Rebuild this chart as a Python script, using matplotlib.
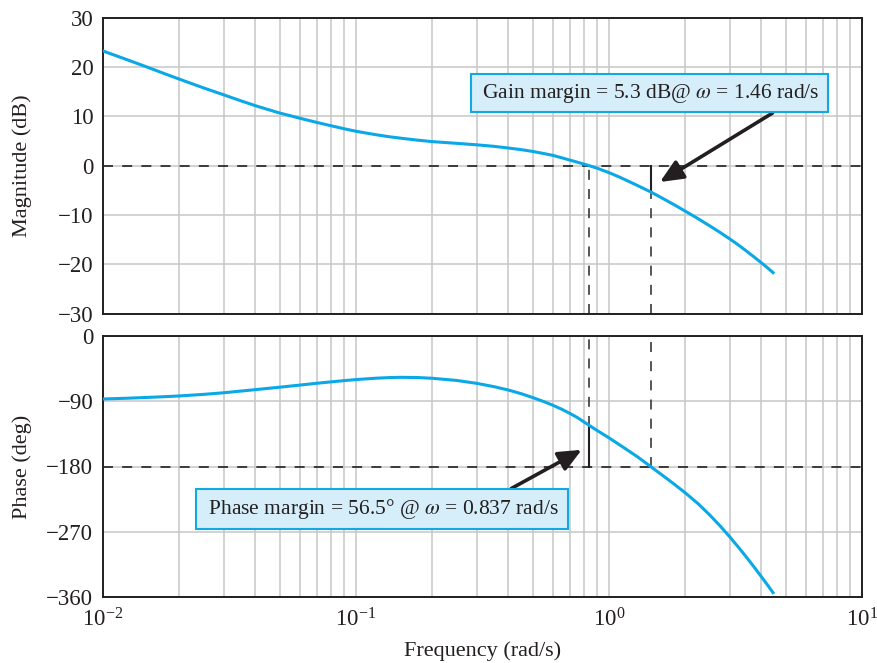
import matplotlib
matplotlib.use("Agg")
import matplotlib.pyplot as plt
from matplotlib.ticker import FixedLocator, LogLocator, NullFormatter

plt.rcParams["font.family"] = ["Liberation Serif", "DejaVu Serif"]
plt.rcParams["mathtext.fontset"] = "stix"

# Bode data
freq = [0.01, 0.0125, 0.015, 0.0175, 0.02, 0.025, 0.03, 0.035, 0.04, 0.045,
        0.05, 0.06, 0.07, 0.08, 0.09, 0.1, 0.12, 0.135, 0.15, 0.175, 0.2,
        0.25, 0.3, 0.35, 0.4, 0.45, 0.5, 0.55, 0.6, 0.65, 0.7, 0.75, 0.837,
        0.9, 1.0, 1.1, 1.2, 1.3, 1.46, 1.6, 1.8, 2.0, 2.25, 2.5, 2.75, 3.0,
        3.25, 3.5, 3.75, 4.0, 4.25, 4.45]
mag_db = [23.3, 21.5, 20.0, 18.7, 17.6, 15.8, 14.4, 13.2, 12.2, 11.4,
          10.7, 9.65, 8.8, 8.1, 7.5, 7.0, 6.3, 5.9, 5.6, 5.2, 4.9,
          4.55, 4.25, 3.95, 3.6, 3.27, 2.9, 2.5, 2.1, 1.62, 1.15, 0.72, 0.0,
          -0.52, -1.4, -2.3, -3.2, -4.05, -5.3, -6.4, -7.85, -9.2, -10.75,
          -12.2, -13.55, -14.85, -16.1, -17.35, -18.55, -19.7, -20.8, -21.7]
phase_deg = [-86.9, -85.8, -84.7, -83.7, -82.7, -80.5, -78.3, -76.0, -74.0,
             -72.2, -70.6, -67.7, -65.2, -63.2, -61.5, -60.1, -58.2, -57.4,
             -57.0, -57.3, -58.3, -61.3, -65.3, -69.8, -74.5, -79.6, -85.0,
             -90.2, -95.5, -101.0, -106.7, -112.5, -123.5, -130.6, -140.5,
             -150.0, -158.8, -167.0, -180.0, -190.3, -203.7, -216.2, -231.3,
             -246.8, -262.0, -277.0, -291.5, -305.4, -318.9, -331.9, -344.3,
             -354.0]

mag_ticks = [30, 20, 10, 0, -10, -20, -30]
phase_ticks = [0, -90, -180, -270, -360]

gain_margin = 5.3      # dB
phase_margin = 56.5    # deg
w_gc = 0.837           # gain crossover (rad/s)
w_pc = 1.46            # phase crossover (rad/s)

gain_text = "\u2009" + r"Gain margin = 5.3 dB@ $\omega$ = 1.46 rad/s" + "\u2009"
phase_text = "\u2009" + r"Phase margin = 56.5° @ $\omega$ = 0.837 rad/s" + "\u2009"

curve_color = "#0aa8e6"
box_style = dict(boxstyle="square,pad=0.36", fc="#d6eefa", ec="#12a8e0", lw=1.5)
arrow_style = dict(arrowstyle="-|>,head_length=0.9,head_width=0.4",
                   color="#231f20", lw=2.6, shrinkA=0, shrinkB=0)
dash = (0, (6, 5.5))


def preparar_eje(ax, ticks, lim):
    ax.set_xscale("log")
    ax.set_xlim(1e-2, 1e1)
    ax.set_ylim(*lim)
    ax.yaxis.set_major_locator(FixedLocator(ticks))
    ax.xaxis.set_major_locator(LogLocator(base=10, numticks=10))
    ax.xaxis.set_minor_locator(LogLocator(base=10, subs=range(2, 10), numticks=20))
    ax.xaxis.set_minor_formatter(NullFormatter())
    ax.grid(True, which="major", color="#c6c6c6", lw=1.1)
    ax.grid(True, which="minor", axis="x", color="#c6c6c6", lw=1.1)
    ax.set_axisbelow(True)
    ax.tick_params(which="both", length=0, labelsize=16.5, pad=7, colors="#231f20")
    ax.tick_params(axis="x", pad=8)
    for s in ax.spines.values():
        s.set_color("#231f20")
        s.set_linewidth(1.4)


fig = plt.figure(figsize=(8.77, 6.63), dpi=100)
ax1 = fig.add_axes([103 / 877, 1 - 313.5 / 663, 759 / 877, 295.5 / 663])
ax2 = fig.add_axes([103 / 877, 1 - 597 / 663, 759 / 877, 261 / 663])

preparar_eje(ax1, mag_ticks, (-30, 30))
preparar_eje(ax2, phase_ticks, (-360, 0))
ax1.tick_params(axis="x", labelbottom=False)

# magnitude
ax1.axhline(0, color="#231f20", lw=1.2, ls=dash)
ax1.plot([w_gc, w_gc], [-30, 0], color="#3a3a3a", lw=1.2, ls=dash)
ax1.plot([w_pc, w_pc], [-30, -gain_margin], color="#3a3a3a", lw=1.2, ls=dash)
ax1.plot([w_pc, w_pc], [-gain_margin, 0], color="#231f20", lw=1.5)
ax1.plot(freq, mag_db, color=curve_color, lw=2.2, zorder=5)

# phase
ax2.axhline(-180, color="#231f20", lw=1.2, ls=dash)
ax2.plot([w_gc, w_gc], [-180 + phase_margin, 0], color="#3a3a3a", lw=1.2, ls=dash)
ax2.plot([w_gc, w_gc], [-180, -180 + phase_margin], color="#231f20", lw=1.5)
ax2.plot([w_pc, w_pc], [-180, 0], color="#3a3a3a", lw=1.2, ls=dash)
ax2.plot(freq, phase_deg, color=curve_color, lw=2.2, zorder=5)

ax1.annotate(gain_text, xy=(1.59, -3.3), xycoords="data",
             xytext=(0.72, 0.746), textcoords="axes fraction",
             ha="center", va="center", fontsize=15.5, color="#231f20",
             bbox=box_style, arrowprops=dict(relpos=(0.9, 0), **arrow_style),
             zorder=6)
ax2.annotate(phase_text, xy=(0.78, -157), xycoords="data",
             xytext=(0.3676, 0.337), textcoords="axes fraction",
             ha="center", va="center", fontsize=15.5, color="#231f20",
             bbox=box_style, arrowprops=dict(relpos=(0.82, 1), **arrow_style),
             zorder=6)

ax1.set_ylabel("Magnitude (dB)", fontsize=16, color="#231f20")
ax2.set_ylabel("Phase (deg)", fontsize=16, color="#231f20")
ax2.set_xlabel("Frequency (rad/s)", fontsize=16, color="#231f20")
ax1.yaxis.set_label_coords(-0.0935, 0.5)
ax2.yaxis.set_label_coords(-0.0935, 0.5)
ax2.xaxis.set_label_coords(0.5, -0.17)

fig.savefig("out.png", dpi=100)
